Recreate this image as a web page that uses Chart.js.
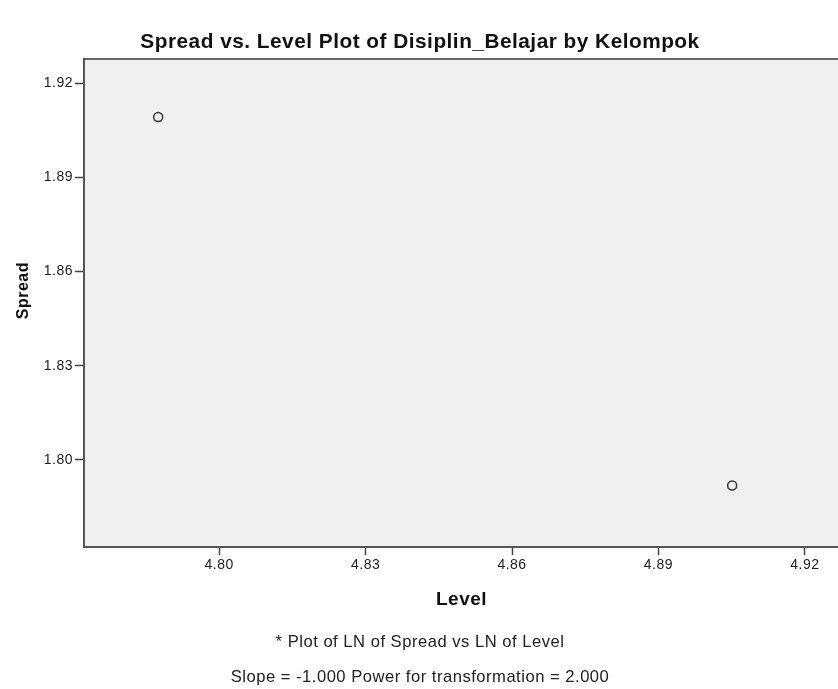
<!DOCTYPE html>
<html>
<head>
<meta charset="utf-8">
<script src="https://cdn.jsdelivr.net/npm/chart.js@4.4.1/dist/chart.umd.min.js"></script>
<style>
  html, body { margin: 0; padding: 0; background: #fff; overflow: hidden; }
  #wrap { width: 845px; height: 695px; }
</style>
</head>
<body>
<div id="wrap"><canvas id="plot" width="845" height="695"></canvas></div>
<script>
// values
const levels = [4.7875, 4.9051];
const spreads = [1.9093, 1.7918];
const levelTicks = [4.80, 4.83, 4.86, 4.89, 4.92];
const spreadTicks = [1.80, 1.83, 1.86, 1.89, 1.92];
const chartTitle = "Spread vs. Level Plot of Disiplin_Belajar by Kelompok";
const footnotes = [
  "* Plot of LN of Spread vs LN of Level",
  "Slope = -1.000 Power for transformation = 2.000",
];

const points = levels.map((x, i) => ({ x: x, y: spreads[i] }));

// SPSS text is slightly spaced out
const spacing = (chart) => {
  if ("letterSpacing" in chart.ctx) chart.ctx.letterSpacing = "0.5px";
};

// grey plot background and the frame line on top
const plotFrame = {
  id: "plotFrame",
  beforeUpdate(chart) {
    spacing(chart);
  },
  beforeDraw(chart) {
    const { ctx, chartArea } = chart;
    ctx.save();
    ctx.fillStyle = "#f0f0f0";
    ctx.fillRect(chartArea.left, chartArea.top,
      chartArea.right - chartArea.left, chartArea.bottom - chartArea.top);
    ctx.strokeStyle = "#666";
    ctx.lineWidth = 2;
    ctx.beginPath();
    ctx.moveTo(chartArea.left, chartArea.top);
    ctx.lineTo(chartArea.right, chartArea.top);
    ctx.stroke();
    ctx.restore();
    spacing(chart);
  },
};

const font = "'Liberation Sans', Arial, sans-serif";

const config = {
  type: "scatter",
  data: {
    datasets: [
      {
        label: "Spread",
        data: points,
        pointStyle: "circle",
        pointRadius: 4.5,
        pointHoverRadius: 4.5,
        borderColor: "#333",
        backgroundColor: "rgba(0,0,0,0)",
        borderWidth: 1.5,
        showLine: false,
      },
    ],
  },
  options: {
    responsive: false,
    animation: false,
    layout: { padding: { left: 0, right: 5, top: 0, bottom: 0 } },
    plugins: {
      legend: { display: false },
      tooltip: { enabled: false },
      title: {
        display: true,
        text: chartTitle,
        color: "#111",
        font: { family: font, size: 20.8, weight: "bold" },
        padding: { top: 30, bottom: 4 },
      },
      subtitle: {
        display: true,
        position: "bottom",
        text: footnotes,
        color: "#222",
        font: { family: font, size: 16.6, weight: "normal", lineHeight: "35px" },
        padding: { top: 0, bottom: 0 },
      },
    },
    scales: {
      x: {
        type: "linear",
        position: "bottom",
        min: 4.7723,
        max: 4.927,
        afterBuildTicks: (scale) => {
          scale.ticks = levelTicks.map((v) => ({ value: v }));
        },
        afterFit: (scale) => {
          scale.height = 78;
        },
        ticks: {
          callback: (v) => Number(v).toFixed(2),
          color: "#222",
          font: { family: font, size: 14 },
          padding: 2,
          maxRotation: 0,
        },
        grid: {
          drawOnChartArea: false,
          drawTicks: true,
          tickLength: 8,
          tickColor: "#444",
          tickWidth: 1.5,
        },
        border: { display: true, color: "#555", width: 2 },
        title: {
          display: true,
          text: "Level",
          color: "#111",
          font: { family: font, size: 19, weight: "bold" },
          padding: { top: 0, bottom: 14 },
        },
      },
      y: {
        type: "linear",
        position: "left",
        min: 1.7722,
        max: 1.9278,
        afterBuildTicks: (scale) => {
          scale.ticks = spreadTicks.map((v) => ({ value: v }));
        },
        afterFit: (scale) => {
          scale.width = 84;
        },
        ticks: {
          callback: (v) => Number(v).toFixed(2),
          color: "#222",
          font: { family: font, size: 14 },
          padding: 2,
        },
        grid: {
          drawOnChartArea: false,
          drawTicks: true,
          tickLength: 9,
          tickColor: "#444",
          tickWidth: 1.5,
        },
        border: { display: true, color: "#555", width: 2 },
        title: {
          display: true,
          text: "     Spread",
          color: "#111",
          font: { family: font, size: 16, weight: "bold" },
          padding: { top: 14, bottom: 0 },
        },
      },
    },
  },
  plugins: [plotFrame],
};

const plot = new Chart(document.getElementById("plot"), config);
</script>
</body>
</html>
